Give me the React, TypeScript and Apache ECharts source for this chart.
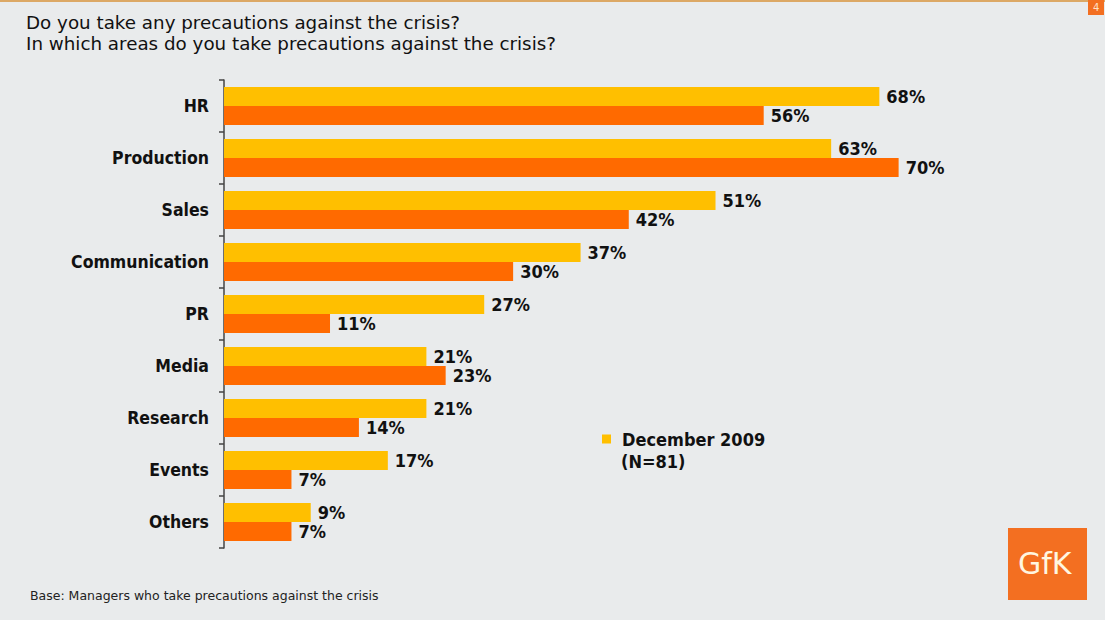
import React, { useEffect, useRef } from "react";
import * as echarts from "echarts";

const categories = ["HR", "Production", "Sales", "Communication", "PR", "Media", "Research", "Events", "Others"];
const dec2009 = [68, 63, 51, 37, 27, 21, 21, 17, 9];
const earlier = [56, 70, 42, 30, 11, 23, 14, 7, 7];

const titleLines = ["Do you take any precautions against the crisis?", "In which areas do you take precautions against the crisis?"];
const footnote = "Base: Managers who take precautions against the crisis";
const legendName = "December 2009";
const legendSub = "(N=81)";

const YELLOW = "#ffbf00";
const ORANGE = "#ff6a00";
const BOLD_FONT = "'DejaVu Sans Condensed', 'DejaVu Sans', sans-serif";

export default function App() {
  const ref = useRef<HTMLDivElement>(null);
  useEffect(() => {
    document.body.style.margin = "0";
    const chart = echarts.init(ref.current!, undefined, { renderer: "svg" });
    const label = {
      show: true,
      position: "right" as const,
      distance: 7,
      formatter: "{c}%",
      color: "#111",
      fontSize: 18,
      fontWeight: "bold" as const,
      fontFamily: BOLD_FONT,
    };
    chart.setOption({
      animation: false,
      backgroundColor: "#e9ebec",
      title: {
        text: titleLines.join("\n"),
        left: 21,
        top: 7,
        textStyle: { fontSize: 18.3, fontWeight: "normal", color: "#111", lineHeight: 21, fontFamily: "'DejaVu Sans', sans-serif" },
      },
      legend: {
        data: [legendName],
        left: 602,
        top: 430,
        padding: 0,
        icon: "rect",
        itemWidth: 9,
        itemHeight: 9,
        itemGap: 10,
        textStyle: {
          fontSize: 18,
          fontWeight: "bold",
          color: "#111",
          fontFamily: BOLD_FONT,
          padding: [0, 0, 0, 6],
        },
      },
      grid: { left: 224, top: 80, bottom: 72, width: 771, containLabel: false },
      xAxis: { type: "value", min: 0, max: 80, show: false },
      yAxis: {
        type: "category",
        data: categories,
        inverse: true,
        axisLine: { show: true, lineStyle: { color: "#444", width: 1.5 } },
        axisTick: { show: true, length: 5, lineStyle: { color: "#444", width: 1.5 } },
        axisLabel: { fontSize: 17.5, fontWeight: "bold", color: "#111", margin: 15, fontFamily: BOLD_FONT },
      },
      series: [
        {
          name: legendName,
          type: "bar",
          data: dec2009,
          barWidth: 19,
          barGap: "0%",
          itemStyle: { color: YELLOW },
          label: { ...label },
        },
        {
          name: "Earlier survey",
          type: "bar",
          data: earlier,
          barWidth: 19,
          barGap: "0%",
          itemStyle: { color: ORANGE },
          label: { ...label },
        },
      ],
      graphic: [
        { type: "rect", left: 0, top: 0, shape: { width: 1105, height: 2 }, style: { fill: "#dca865" } },
        { type: "rect", left: 1088, top: 0, shape: { width: 16, height: 15 }, style: { fill: "#f36f21" } },
        { type: "text", left: 1093, top: 2, style: { text: "4", fill: "#ffe0c8", fontSize: 10, fontFamily: "'DejaVu Sans', sans-serif" } },
        { type: "rect", left: 1008, top: 528, shape: { width: 79, height: 72 }, style: { fill: "#f36f21" } },
        { type: "text", left: 1018, top: 548, style: { text: "GfK", fill: "#fff6e0", fontSize: 30, fontFamily: "'DejaVu Sans', sans-serif" } },
        { type: "text", left: 621, top: 452, style: { text: legendSub, fill: "#111", fontSize: 18, fontWeight: "bold", fontFamily: BOLD_FONT } },
        { type: "text", left: 30, top: 589, style: { text: footnote, fill: "#222", fontSize: 12.5, fontFamily: "'DejaVu Sans', sans-serif" } },
      ],
    });
    return () => chart.dispose();
  }, []);
  return <div ref={ref} style={{ width: 1105, height: 620 }} />;
}
